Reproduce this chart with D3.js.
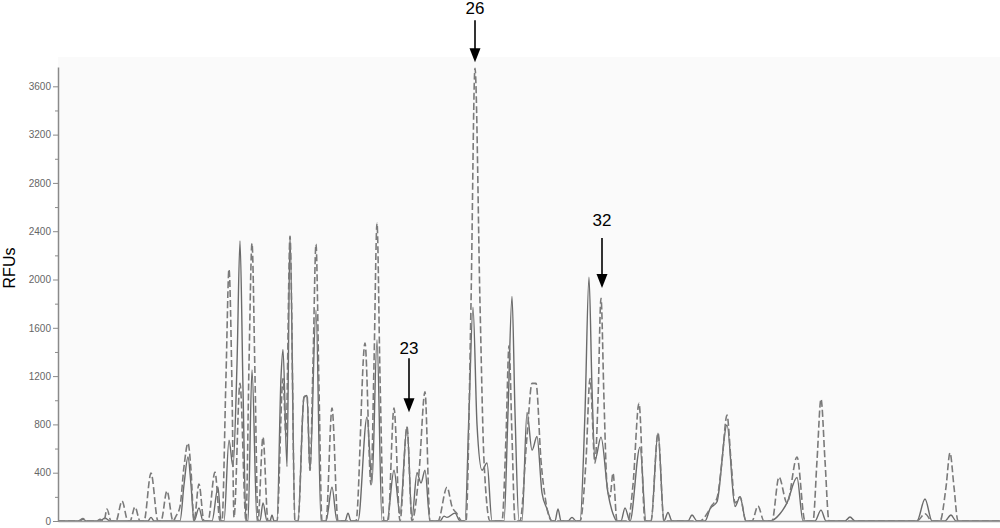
<!DOCTYPE html>
<html><head><meta charset="utf-8">
<script src="https://cdn.jsdelivr.net/npm/d3@7"></script>
<style>body{margin:0;background:#fff} svg{display:block}</style>
</head><body><svg id="c" width="1000" height="528"></svg>
<script>
// ---- data (migration position, RFU) ----
const yMajorTicks = [0,400,800,1200,1600,2000,2400,2800,3200,3600];
const yMinorTicks = [200,600,1000,1400,1800,2200,2600,3000,3400];
const yLabel = "RFUs";

const dashedTrace = [
 [58,0],[78,0],[83,20],[88,0],[97,0],[100,15],[103,0],[104,0],[107,100],[111,0],
 [116,0],[122,165],[128,0],[130,0],[135,116],[140,0],[144,0],[151,397],[158,0],
 [161,0],[167,248],[173,0],[176,40],[180,120],[184,450],[188,645],[191,420],[194,0],[199,306],[204,0],
 [208,0],[215,405],[220,0],[222,0],[226,1200],[229,2085],[232,1100],[234,30],[240,1140],[246,0],[249,1300],[252,2300],[255,1200],[258,0],
 [263,695],[268,0],[277,0],[283,1180],[286,700],[290,2358],[295,0],
 [298,0],[304,1025],[307,1040],[310,420],[313,1300],[316,2292],[319,1100],[322,0],[326,0],[332,935],[338,0],
 [356,0],[365,1473],[371,300],[374,1300],[377,2466],[380,1200],[384,0],[388,0],[394,935],[400,0],[407,780],[412,0],
 [419,400],[425,1070],[430,0],[438,0],[447,280],[452,120],[457,60],[462,0],
 [466,0],[471,1800],[475,3750],[480,1800],[484,500],[490,0],[502,0],[506,700],[509,1450],[512,700],[515,0],
 [520,0],[527,700],[532,1140],[536,1140],[541,500],[546,150],[552,0],
 [580,0],[586,500],[590,1180],[595,480],[598,1000],[601,1845],[604,1000],[607,300],[610,200],[613,397],[617,0],
 [628,0],[633,300],[639,975],[645,0],[651,0],[658,728],[664,0],
 [700,0],[707,60],[712,130],[717,190],[722,500],[727,877],[731,500],[735,150],[740,200],[746,0],
 [752,0],[758,124],[764,0],[772,0],[779,364],[787,150],[797,530],[805,0],
 [813,0],[817,500],[821,1010],[825,500],[829,0],[917,0],[925,60],[932,0],[940,0],[946,280],[950,563],[954,280],[958,0],[1000,0]
];

const solidTrace = [
 [58,0],[80,0],[83,15],[86,0],[100,0],[105,25],[110,0],[148,0],[151,30],[154,0],
 [180,0],[184,300],[188,530],[191,300],[194,0],[199,108],[203,0],[212,0],[218,280],[221,0],
 [224,0],[229,670],[233,450],[237,1300],[240,2320],[243,1100],[246,0],[248,0],[252,1250],[257,0],
 [260,0],[263,150],[267,0],[270,0],[272,50],[274,0],
 [277,0],[281,1190],[283,1420],[287,450],[290,2358],[295,0],
 [298,0],[304,1025],[307,1040],[310,420],[316,1745],[321,0],[326,0],[332,280],[337,0],
 [345,0],[348,65],[351,0],[358,0],[367,860],[372,315],[377,1500],[382,0],
 [387,0],[394,420],[400,60],[407,780],[412,30],[417,400],[421,315],[425,420],[430,0],
 [440,0],[444,40],[447,30],[455,65],[460,0],
 [465,0],[469,900],[473,1770],[477,800],[482,420],[487,480],[492,0],[504,0],[508,900],[512,1860],[515,900],[519,0],
 [522,0],[527,900],[532,587],[537,700],[542,232],[547,100],[552,0],[555,0],[558,100],[561,0],
 [568,0],[572,30],[576,0],[580,0],[585,900],[589,2020],[592,1100],[595,505],[601,695],[608,230],[613,60],[617,0],
 [621,0],[625,108],[630,0],[640,612],[646,0],[651,0],[658,728],[664,0],[668,70],[672,0],
 [688,0],[692,50],[697,0],[705,0],[710,100],[717,160],[727,795],[735,120],[740,200],[746,0],
 [770,0],[780,60],[787,150],[797,360],[803,0],[815,0],[821,90],[826,0],
 [845,0],[850,33],[855,0],[917,0],[925,182],[932,0],[945,0],[951,50],[956,0],[1000,0]
];

const annotations = [
 {label:"26", x:475, tipValue:3800, length:42, labelGap:6},
 {label:"32", x:602, tipValue:1930, length:50, labelGap:12},
 {label:"23", x:409, tipValue:900,  length:54, labelGap:4}
];

// ---- drawing ----
const svg = d3.select("#c");
const x = d3.scaleLinear().domain([58,1000]).range([58,1000]);
const y = d3.scaleLinear().domain([0,3760]).range([521,67]);

svg.append("rect").attr("x",58).attr("y",57).attr("width",942).attr("height",464).attr("fill","#fafafa");

const line = d3.line().x(d=>x(d[0])).y(d=>y(d[1])).curve(d3.curveMonotoneX);

svg.append("path").datum(solidTrace).attr("d",line)
  .attr("fill","none").attr("stroke","#6a6a6a").attr("stroke-width",1.4);
svg.append("path").datum(dashedTrace).attr("d",line)
  .attr("fill","none").attr("stroke","#7a7a7a").attr("stroke-width",1.6)
  .attr("stroke-dasharray","7,3");

// x axis line
svg.append("g").attr("transform","translate(0,521)")
  .call(d3.axisBottom(x).tickValues([]).tickSizeOuter(0))
  .call(g=>g.select(".domain").attr("stroke","#9a9a9a").attr("stroke-width",1.5));

// y axis
const gy = svg.append("g").attr("transform","translate(58,0)");
gy.call(d3.axisLeft(y).tickValues(yMajorTicks).tickSize(5).tickPadding(2).tickSizeOuter(0).tickFormat(d3.format("d")));
gy.select(".domain").attr("stroke","#8a8a8a").attr("stroke-width",1.5);
gy.selectAll(".tick line").attr("stroke","#8a8a8a");
gy.selectAll(".tick text").attr("fill","#666").style("font-family","Liberation Sans, Arial, sans-serif").style("font-size","10px");
const gm = svg.append("g").attr("transform","translate(58,0)");
gm.call(d3.axisLeft(y).tickValues(yMinorTicks).tickSize(3).tickFormat(""));
gm.select(".domain").remove();
gm.selectAll(".tick line").attr("stroke","#8a8a8a");

svg.append("text").attr("transform","translate(15,268) rotate(-90)")
  .attr("text-anchor","middle").style("font-family","Liberation Sans, Arial, sans-serif")
  .style("font-size","16px").attr("fill","#000").text(yLabel);

// annotations
const ga = svg.append("g");
annotations.forEach(a=>{
  const tx = x(a.x), tip = y(a.tipValue), start = tip - a.length;
  ga.append("line").attr("x1",tx).attr("x2",tx).attr("y1",start).attr("y2",tip-12)
    .attr("stroke","#000").attr("stroke-width",1.6);
  ga.append("path").attr("d",`M${tx-5.5},${tip-14}L${tx+5.5},${tip-14}L${tx},${tip}Z`).attr("fill","#000");
  ga.append("text").attr("x",tx).attr("y",start-a.labelGap).attr("text-anchor","middle")
    .style("font-family","Liberation Sans, Arial, sans-serif").style("font-size","17px")
    .attr("fill","#000").text(a.label);
});
</script></body></html>
